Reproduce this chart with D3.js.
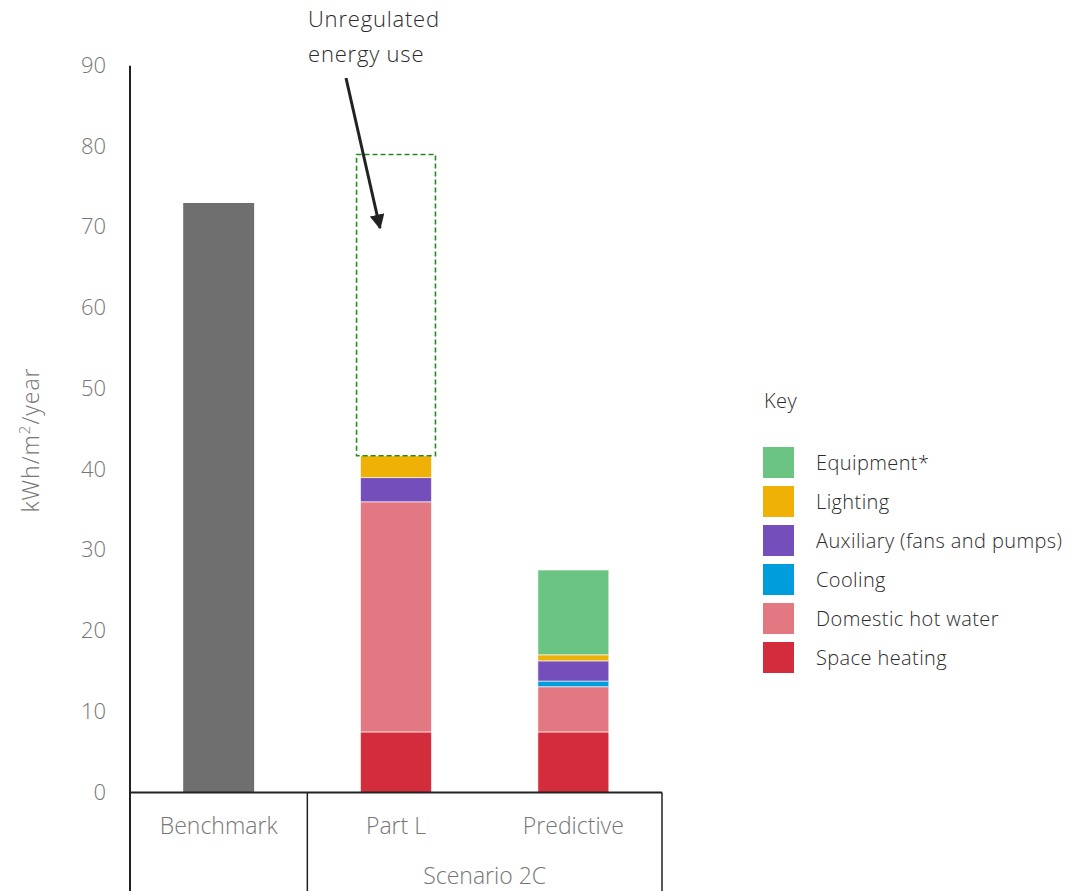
<!DOCTYPE html>
<html>
<head>
<meta charset="utf-8">
<script src="https://cdn.jsdelivr.net/npm/d3@7"></script>
<style>
  html, body { margin: 0; padding: 0; background: #fff; }
  svg { display: block; font-family: "Open Sans", sans-serif; font-weight: 300; }
</style>
</head>
<body>
<svg id="chart" width="1080" height="891"></svg>
<script>
// ---- data ----
const categories = ["Benchmark", "Part L", "Predictive"];
const groupLabels = ["Scenario 2C"];
const seriesNames = ["Space heating", "Domestic hot water", "Cooling", "Auxiliary (fans and pumps)", "Lighting", "Equipment*"];
const seriesColors = ["#D32C3C", "#E27881", "#009DDD", "#744EBA", "#EFB106", "#6BC482"];
const spaceHeating     = [0, 7.5, 7.5];
const domesticHotWater = [0, 28.5, 5.6];
const cooling          = [0, 0, 0.7];
const auxiliary        = [0, 3.0, 2.5];
const lighting         = [0, 2.7, 0.75];
const equipment        = [0, 0, 10.5];
const benchmarkTotal   = [73.0, 0, 0];
const unregulatedEnergy = [0, 37.3, 0];
const yTicks = [0, 10, 20, 30, 40, 50, 60, 70, 80, 90];
const yLabelParts = ["kWh/m", "2", "/year"];
const annotationLines = ["Unregulated", "energy use"];
const legendTitle = "Key";

// ---- build table ----
const seriesValues = [spaceHeating, domesticHotWater, cooling, auxiliary, lighting, equipment];
const rows = categories.map((c, i) => {
  const r = { category: c };
  seriesNames.forEach((s, j) => r[s] = seriesValues[j][i]);
  return r;
});

const svg = d3.select("#chart");
const x0 = 130, x1 = 662, yBase = 792.5, yTop = 65.7;
const grey = "#767676", dark = "#2b2b2b";

const x = d3.scaleBand().domain(categories).range([x0, x1]).paddingInner(0.6).paddingOuter(0.3);
const y = d3.scaleLinear().domain([0, 90]).range([yBase, yTop]);

const stacked = d3.stack().keys(seriesNames)(rows);

// benchmark bar
svg.append("g").selectAll("rect").data(categories.filter((c, i) => benchmarkTotal[i] > 0))
  .join("rect")
  .attr("x", d => x(d))
  .attr("width", x.bandwidth())
  .attr("y", d => y(benchmarkTotal[categories.indexOf(d)]))
  .attr("height", d => y(0) - y(benchmarkTotal[categories.indexOf(d)]))
  .attr("fill", "#6F6F6F");

// stacked bars
const layers = svg.append("g").selectAll("g").data(stacked).join("g")
  .attr("fill", (d, i) => seriesColors[i]);
layers.selectAll("rect").data(d => d.filter(p => p[1] - p[0] > 0)).join("rect")
  .attr("x", d => x(d.data.category))
  .attr("width", x.bandwidth())
  .attr("y", d => y(d[1]))
  .attr("height", d => y(d[0]) - y(d[1]))
  .attr("stroke", "rgba(255,255,255,0.6)")
  .attr("stroke-width", 1);

// unregulated dashed box
const totals = rows.map(r => d3.sum(seriesNames, s => r[s]));
svg.append("g").selectAll("rect").data(categories.filter((c, i) => unregulatedEnergy[i] > 0))
  .join("rect")
  .attr("x", d => x(d) - 4)
  .attr("width", x.bandwidth() + 8)
  .attr("y", d => { const i = categories.indexOf(d); return y(totals[i] + unregulatedEnergy[i]); })
  .attr("height", d => { const i = categories.indexOf(d); return y(totals[i]) - y(totals[i] + unregulatedEnergy[i]); })
  .attr("fill", "none")
  .attr("stroke", "#228B22")
  .attr("stroke-width", 1.6)
  .attr("stroke-dasharray", "5,3");

// y axis
const yAxis = d3.axisLeft(y).tickValues(yTicks).tickSize(0).tickPadding(24);
const gy = svg.append("g").attr("transform", `translate(${x0},0)`).call(yAxis);
gy.select(".domain").remove();
gy.selectAll("text").attr("font-size", 22).attr("fill", grey)
  .attr("font-family", "'Open Sans', sans-serif").attr("font-weight", 300).attr("dy", "0.3em");

// axis lines
svg.append("line").attr("x1", x0).attr("x2", x0).attr("y1", yTop).attr("y2", 891)
  .attr("stroke", "#222").attr("stroke-width", 2);
svg.append("line").attr("x1", x0).attr("x2", x1).attr("y1", yBase).attr("y2", yBase)
  .attr("stroke", "#222").attr("stroke-width", 2);
const step = x.step();
const sepX = x("Benchmark") + x.bandwidth() / 2 + step / 2;
svg.append("line").attr("x1", sepX).attr("x2", sepX).attr("y1", yBase).attr("y2", 891)
  .attr("stroke", "#222").attr("stroke-width", 1.5);
svg.append("line").attr("x1", x1).attr("x2", x1).attr("y1", yBase).attr("y2", 891)
  .attr("stroke", "#222").attr("stroke-width", 1.5);

// category labels
const xAxis = d3.axisBottom(x).tickSize(0).tickPadding(0);
const gx = svg.append("g").attr("transform", `translate(0,${yBase})`).call(xAxis);
gx.select(".domain").remove();
gx.selectAll("text").attr("font-size", 23).attr("fill", grey)
  .attr("font-family", "'Open Sans', sans-serif").attr("font-weight", 300)
  .attr("dy", null).attr("y", 41.5);

svg.append("text")
  .attr("x", (sepX + x1) / 2).attr("y", 884)
  .attr("text-anchor", "middle").attr("font-size", 23).attr("fill", grey)
  .text(groupLabels[0]);

// y label
const yl = svg.append("text")
  .attr("transform", `translate(39,440) rotate(-90)`)
  .attr("text-anchor", "middle").attr("font-size", 23).attr("letter-spacing", 1).attr("fill", grey);
yl.append("tspan").text(yLabelParts[0]);
yl.append("tspan").attr("font-size", 15).attr("dy", -9).text(yLabelParts[1]);
yl.append("tspan").attr("dy", 9).text(yLabelParts[2]);

// annotation
const ann = svg.append("text").attr("x", 308).attr("font-size", 22).attr("letter-spacing", 0.8).attr("fill", dark);
annotationLines.forEach((t, i) => ann.append("tspan").attr("x", 308).attr("y", 27.3 + i * 35).text(t));

svg.append("defs").append("marker")
  .attr("id", "arrow").attr("viewBox", "0 0 10 10").attr("refX", 9).attr("refY", 5)
  .attr("markerWidth", 5).attr("markerHeight", 5).attr("orient", "auto")
  .append("path").attr("d", "M0,0 L10,5 L0,10 z").attr("fill", "#222");
svg.append("line").attr("x1", 346).attr("y1", 78).attr("x2", 380).attr("y2", 228)
  .attr("stroke", "#222").attr("stroke-width", 3).attr("marker-end", "url(#arrow)");

// legend
const lg = svg.append("g");
lg.append("text").attr("x", 764).attr("y", 408.3).attr("font-size", 20).attr("letter-spacing", 0.4).attr("fill", dark).text(legendTitle);
const legendItems = seriesNames.map((s, i) => ({ name: s, color: seriesColors[i] })).reverse();
const li = lg.selectAll("g.item").data(legendItems).join("g").attr("class", "item")
  .attr("transform", (d, i) => `translate(763,${447 + i * 39})`);
li.append("rect").attr("width", 31).attr("height", 31).attr("fill", d => d.color);
li.append("text").attr("x", 53).attr("y", 23).attr("font-size", 20).attr("letter-spacing", 0.4).attr("fill", dark).text(d => d.name);
</script>
</body>
</html>
